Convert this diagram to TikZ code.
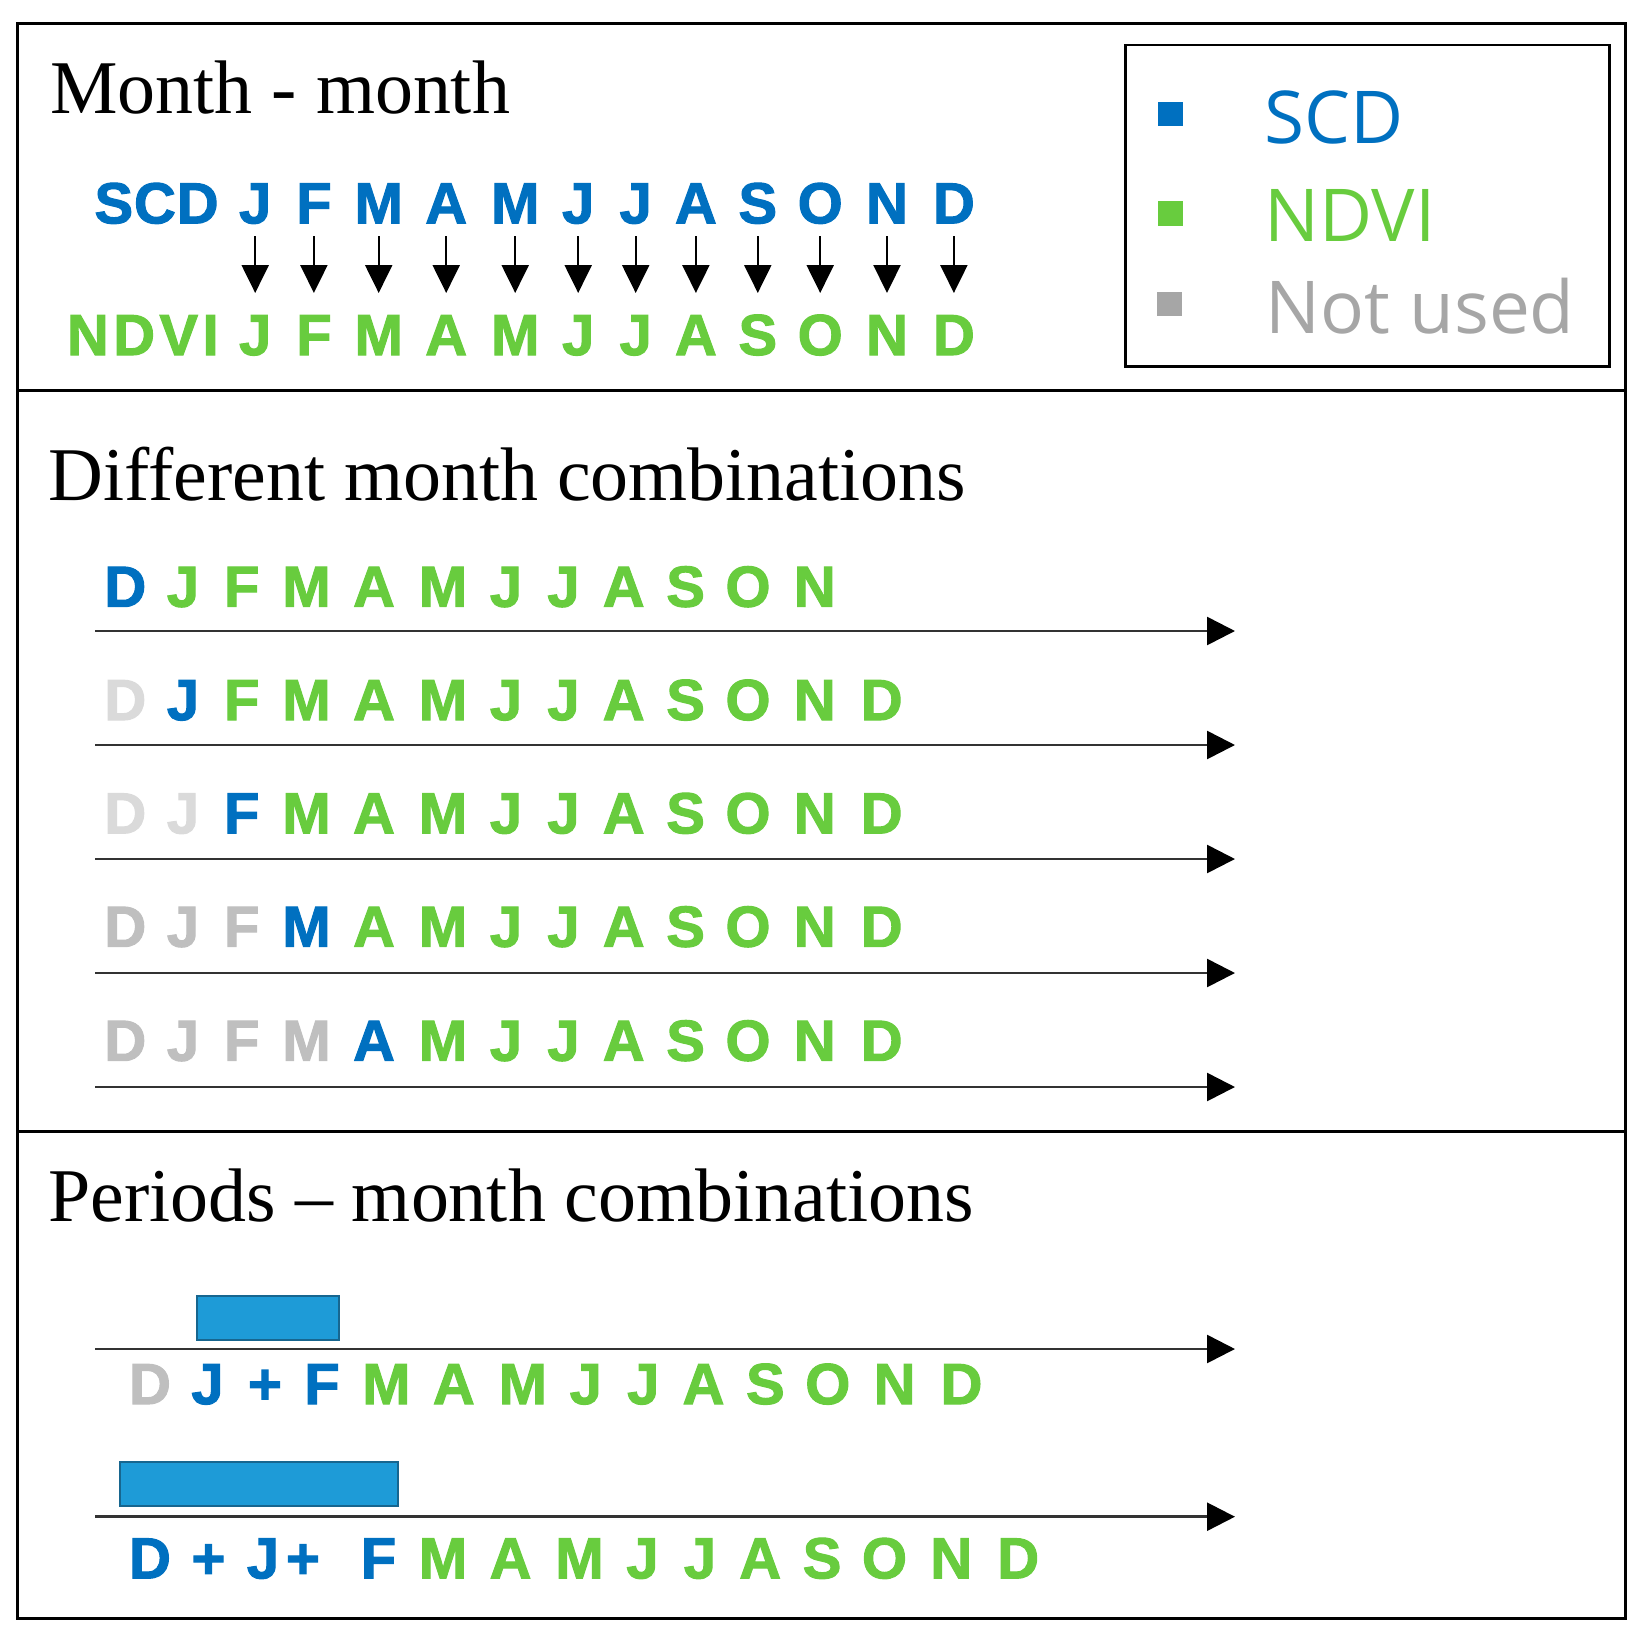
\documentclass[tikz,border=0pt]{standalone}
\usepackage{fontspec}
\setmainfont{Liberation Serif}
\newfontfamily\lettfont{Liberation Sans}[BoldFeatures={FakeBold=1.8}]
\newfontfamily\legfont{Open Sans}
\usetikzlibrary{arrows.meta}
\definecolor{blu}{HTML}{0070C0}
\definecolor{grn}{HTML}{68CC3E}
\definecolor{lgry}{HTML}{DADADA}
\definecolor{mgry}{HTML}{BFBFBF}
\definecolor{leggry}{HTML}{A6A6A6}
\definecolor{barfill}{HTML}{1E9BD7}
\definecolor{barline}{HTML}{17668F}
% #1 name, #2 shift, #3 baseline, #4 first index, #5 last index, #6 blue index, #7 colour before blue
\newcommand\mrow[7]{%
  \foreach \l/\dx [count=\i] in {D/0,J/57.7,F/116.4,M/181.2,A/248.7,M/317.7,J/380.7,J/438.2,A/498.4,S/560.3,O/622.7,N/689.5,D/756.4}{%
    \ifnum\i<#4\relax\else\ifnum\i>#5\relax\else
      \ifnum\i<#6\relax\def\cc{#7}\else\ifnum\i=#6\relax\def\cc{blu}\else\def\cc{grn}\fi\fi
      \node[mon,text=\cc] (#1-\i) at (#2+\dx,#3) {\l};
    \fi\fi}}
\begin{document}
\begin{tikzpicture}[x=0.02cm,y=-0.02cm,
  mon/.style={inner sep=0pt, anchor=base, text height=23.7pt, text depth=0pt,
    font=\lettfont\bfseries\fontsize{33}{33}\selectfont},
  ttl/.style={inner sep=0pt, anchor=base west, font=\fontsize{43.2}{43.2}\selectfont},
  legtxt/.style={inner sep=0pt, anchor=base west, font=\legfont\fontsize{41.5}{41.5}\selectfont},
  legsq/.style={minimum size=14.2pt, inner sep=0pt, draw=none},
  frame/.style={line width=1.7pt, draw=black},
  darr/.style={line width=1.1pt, -{Triangle[width=15.4pt,length=15.9pt]},
    shorten <=7.2pt, shorten >=11.4pt},
  longarr/.style={line width=1.5pt, draw=black!80,
    -{Triangle[width=15.9pt,length=15.9pt,color=black]}},
  barst/.style={fill=barfill, draw=barline, line width=1.2pt}]
\useasboundingbox (0,0) rectangle (1647,1647);
% frames
\draw[frame] (17.5,23.3) rectangle (1625,1618.5);
\draw[frame] (17.5,390) -- (1625,390);
\draw[frame] (17.5,1131) -- (1625,1131);
\draw[frame] (1125,45) rectangle (1609,366);
% legend
\node[legsq, fill=blu] (lq1) at (1170.5,114) {};
\node[legsq, fill=grn] (lq2) at (1170.5,213.5) {};
\node[legsq, fill=leggry] (lq3) at (1169.5,304) {};
\node[legtxt, text=blu] (lt1) at (1264,143) {SCD};
\node[legtxt, text=grn] (lt2) at (1264,241.7) {NDVI};
\node[legtxt, text=leggry] (lt3) at (1265.5,333.3) {Not used};
% titles
\node[ttl] (t1) at (50,113) {Month - month};
\node[ttl] (t2) at (48,500) {Different month combinations};
\node[ttl] (t3) at (48,1221.6) {Periods -- month combinations};
% section 1
\node[mon, anchor=base east, text=blu] (scd) at (219,223.3) {S\kern0.5pt C\kern0.5pt D};
\node[mon, anchor=base east, text=grn] (ndvi) at (219,355) {N\kern2.5pt D\kern2.5pt V\kern2.5pt I};
\mrow{s}{197.5}{223.3}{2}{13}{99}{blu}
\mrow{n}{197.5}{355}{2}{13}{99}{grn}
\foreach \i in {2,...,13}{\draw[darr] (s-\i.south) -- (n-\i.north);}
% section 2
\mrow{ra}{125.3}{606.7}{1}{12}{1}{blu}
\mrow{rb}{125.3}{720}{1}{13}{2}{lgry}
\mrow{rc}{125.3}{833.3}{1}{13}{3}{lgry}
\mrow{rd}{125.3}{946.7}{1}{13}{4}{mgry}
\mrow{re}{125.3}{1060.7}{1}{13}{5}{mgry}
\foreach \yy [count=\k] in {631,745,859,973,1087}{
  \coordinate (ls\k) at (95,\yy);
  \coordinate (le\k) at (1235,\yy);
  \draw[longarr] (ls\k) -- (le\k);}
% section 3
\draw[barst] (197.3,1296) rectangle (339.3,1340);
\draw[barst] (120,1461.7) rectangle (398.3,1506);
\coordinate (ps1) at (95,1349);
\coordinate (pe1) at (1235,1349);
\coordinate (ps2) at (95,1516.7);
\coordinate (pe2) at (1235,1516.7);
\draw[longarr] (ps1) -- (pe1);
\draw[longarr] (ps2) -- (pe2);
\node[mon, text=mgry] (pa-1) at (150,1404) {D};
\node[mon, text=blu] (pa-2) at (207.5,1404) {J};
\node[mon, text=blu] (pa-p) at (265,1404) {+};
\node[mon, text=blu] (pa-3) at (322,1404) {F};
\mrow{pa}{205.1}{1404}{4}{13}{0}{grn}
\node[mon, text=blu] (pb-1) at (150,1578.3) {D};
\node[mon, text=blu] (pb-p1) at (208.5,1578.3) {+};
\node[mon, text=blu] (pb-2) at (263,1578.3) {J};
\node[mon, text=blu] (pb-p2) at (303,1578.3) {+};
\node[mon, text=blu] (pb-3) at (378.5,1578.3) {F};
\mrow{pb}{261.8}{1578.3}{4}{13}{0}{grn}
\end{tikzpicture}
\end{document}
